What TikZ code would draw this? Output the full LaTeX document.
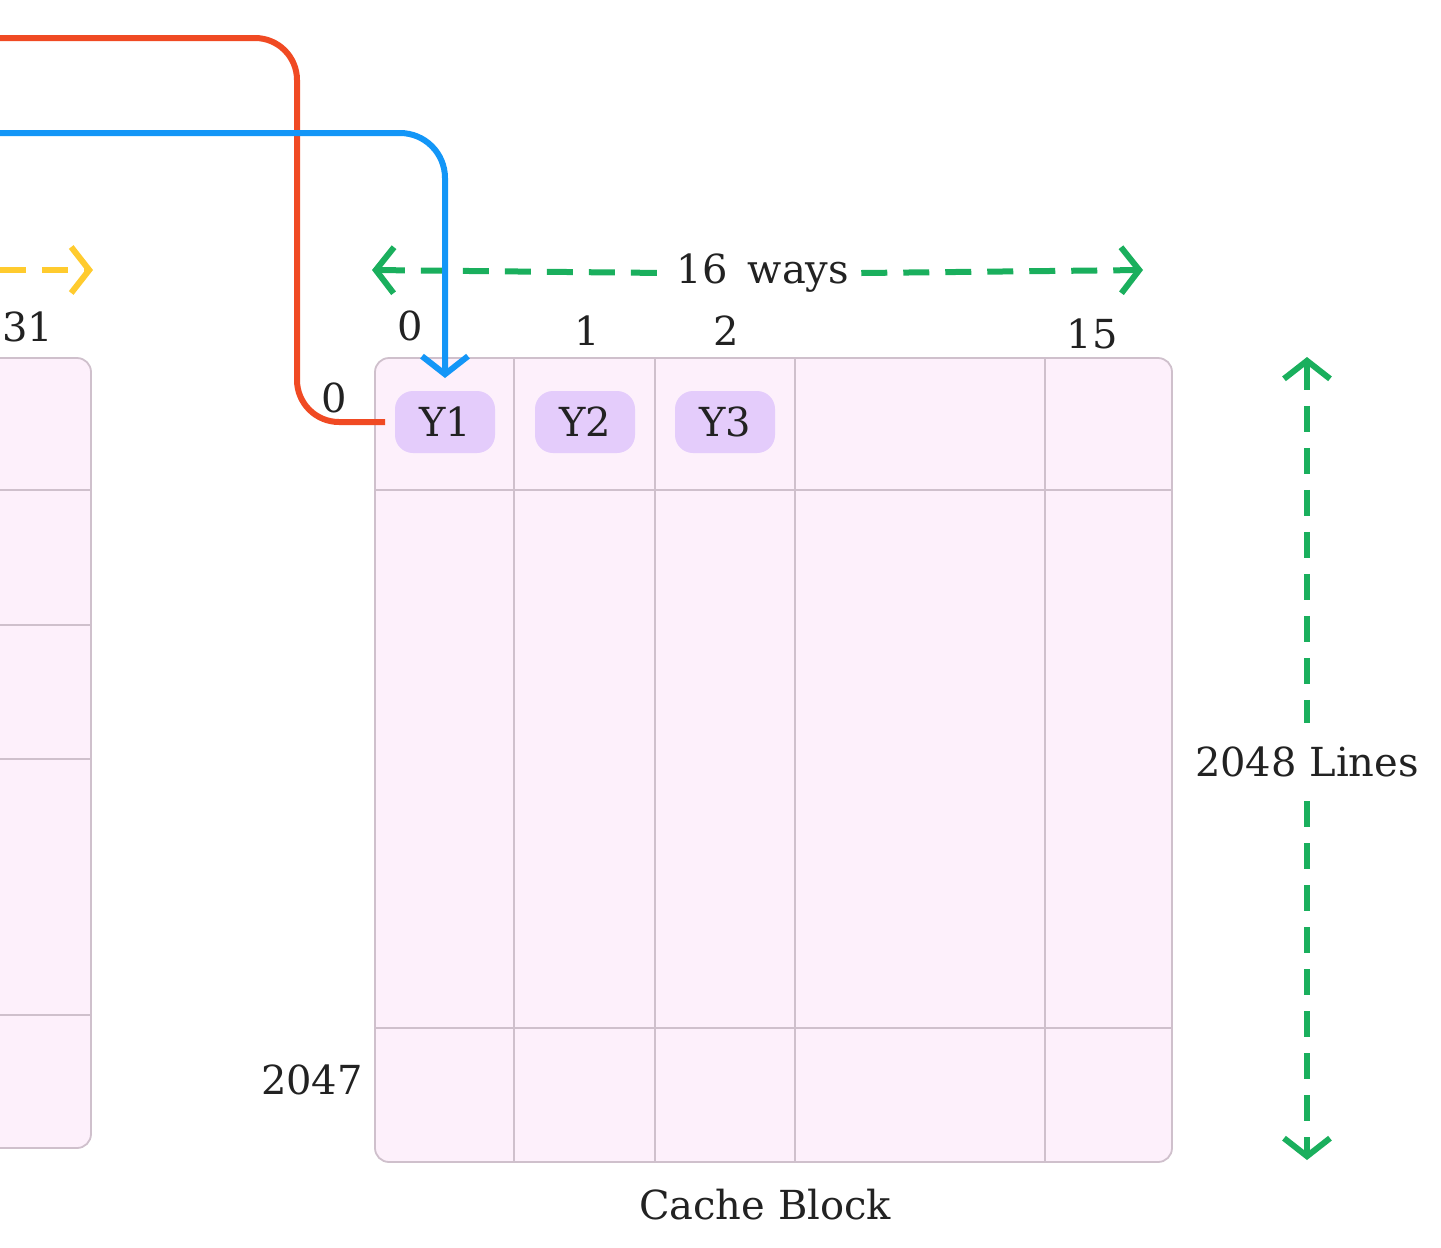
\documentclass[tikz,border=0pt]{standalone}
\usepackage{fontspec}
\setmainfont{DejaVu Serif}
\usetikzlibrary{arrows.meta}
\definecolor{cellfill}{HTML}{FDF0FB}
\definecolor{cellline}{HTML}{CFC0CC}
\definecolor{pill}{HTML}{E4CCFB}
\definecolor{gr}{HTML}{1AAF5D}
\definecolor{yl}{HTML}{FFCB2E}
\definecolor{rd}{HTML}{F04A23}
\definecolor{bl}{HTML}{1396F7}
\definecolor{txt}{HTML}{222222}
\tikzset{barb/.tip={Straight Barb[length=18pt,width=46pt,line width=6pt]}}
\begin{document}
\begin{tikzpicture}[x=1pt,y=-1pt,
  lbl/.style={text=txt,font=\fontsize{40}{42}\selectfont,inner sep=1pt},
  grid/.style={draw=cellline,line width=1.8pt},
  pillst/.style={fill=pill,rounded corners=18pt,minimum width=100pt,minimum height=62pt,text=txt,font=\fontsize{40}{42}\selectfont},
  dim/.style={line width=6pt,dash pattern=on 26pt off 16pt}]
\useasboundingbox (0,0) rectangle (1441,1248);
% left partial grid
\begin{scope}
\clip (0,0) rectangle (1441,1248);
\draw[grid,fill=cellfill,rounded corners=14pt] (-60,358) rectangle (91,1148);
\foreach \y in {490,625,759,1015} \draw[grid] (0,\y) -- (91,\y);
\end{scope}
\node[lbl] (n31) at (28,327) {31};
\coordinate (ys) at (0,270); \coordinate (ye) at (93,270);
\draw[dim,yl,-{barb}] (ys) -- (ye);
% right grid
\draw[grid,fill=cellfill,rounded corners=14pt] (375,358) rectangle (1172,1162);
\foreach \x in {514,655,795,1045} \draw[grid] (\x,358) -- (\x,1162);
\foreach \y in {490,1028} \draw[grid] (375,\y) -- (1172,\y);
% labels
\node[lbl] (w0) at (410,326) {0};
\node[lbl] (w1) at (587,331) {1};
\node[lbl] (w2) at (726,331) {2};
\node[lbl] (w15) at (1092,334) {15};
\node[lbl] (l2047) at (312,1080) {2047};
\node[lbl] (cb) at (765,1205) {Cache Block};
\node[lbl] (r0) at (334,398) {0};
% pills
\node[pillst] (y1) at (445,422) {Y1};
\node[pillst] (y2) at (585,422) {Y2};
\node[pillst] (y3) at (725,422) {Y3};
% ways arrow
\node[lbl,fill=white,inner sep=12pt] (ways) at (763,273) {16\enspace ways};
\coordinate (wa) at (372,270); \coordinate (wb) at (1143,270);
\draw[dim,gr,{barb}-] (wa) -- (ways.west);
\draw[dim,gr,-{barb}] (ways.east) -- (wb);
% lines arrow
\node[lbl,fill=white,inner xsep=2pt,inner ysep=24pt] (lines) at (1307,762) {2048 Lines};
\coordinate (la) at (1307,357); \coordinate (lb) at (1307,1160);
\draw[dim,gr,{barb}-] (la) -- (lines.north);
\draw[dim,gr,-{barb}] (lines.south) -- (lb);
% red
\coordinate (rs) at (0,38); \coordinate (re) at (385,422);
\draw[rd,line width=6pt,rounded corners=42pt] (rs) -- (297,38) -- (297,422) -- (re);
% blue
\coordinate (bs) at (0,133); \coordinate (be) at (445,378);
\draw[bl,line width=6pt,rounded corners=45pt,-{barb}] (bs) -- (445,133) -- (be);
\end{tikzpicture}
\end{document}
